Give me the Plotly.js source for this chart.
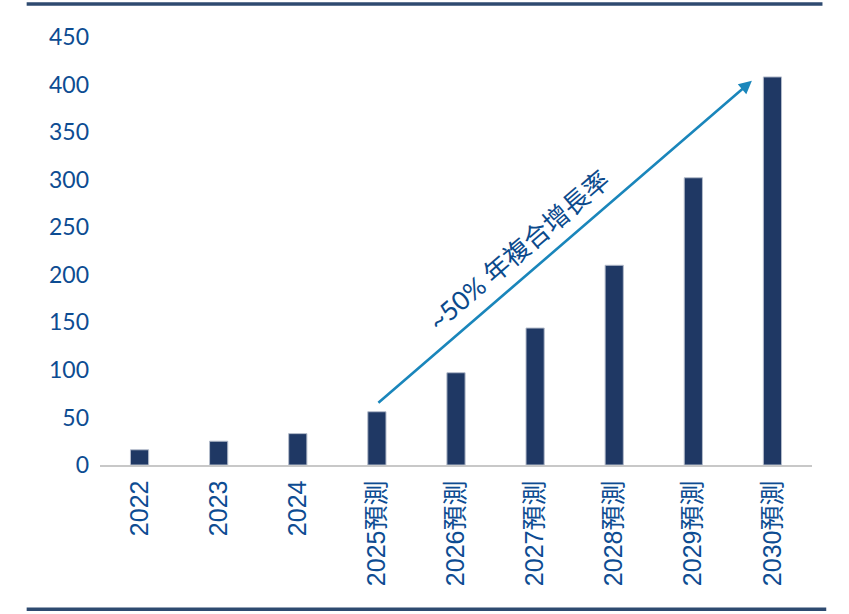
<!DOCTYPE html>
<html>
<head>
<meta charset="utf-8">
<script src="https://cdn.plot.ly/plotly-3.0.1.min.js"></script>
<style>html,body{margin:0;padding:0;background:#fff;}#chart{width:849px;height:614px;}</style>
</head>
<body>
<div id="chart"></div>
<script>
const categories = ["2022", "2023", "2024", "2025預測", "2026預測", "2027預測", "2028預測", "2029預測", "2030預測"];
const values = [16, 25, 33, 56, 97, 144, 210, 302, 408];
const yTicks = [0, 50, 100, 150, 200, 250, 300, 350, 400, 450];
const cagrLabel = "~50% 年複合增長率";
const arrowStart = {x: 3, y: 64};
const arrowEnd = {x: 7.74, y: 404};
const labelPos = {x: 4.79, y: 226};

const FONT = "Lato, 'Noto Sans CJK TC', sans-serif";
const XFONT = "'Liberation Sans', Arial, 'Noto Sans CJK TC', sans-serif";
const TXT = "#0d4c92";

const trace = {
  type: "bar",
  x: categories,
  y: values,
  marker: {color: "#1f3864", line: {color: "#b4bccb", width: 1}},
  hoverinfo: "skip"
};

const layout = {
  width: 849, height: 614,
  margin: {l: 99.5, r: 37, t: 37, b: 148.5},
  paper_bgcolor: "#ffffff",
  plot_bgcolor: "#ffffff",
  showlegend: false,
  bargap: 0.77,
  font: {family: FONT, color: TXT, size: 23},
  xaxis: {
    type: "category",
    range: [-0.5, 8.5],
    showline: true, linecolor: "#c8c8c8", linewidth: 1.5,
    showgrid: false, zeroline: false, ticks: "",
    tickangle: -90,
    tickfont: {family: XFONT, color: TXT, size: 25},
    ticklabelstandoff: 4
  },
  yaxis: {
    range: [0, 450],
    tickvals: yTicks,
    ticktext: yTicks.map(String),
    showline: false, showgrid: false, zeroline: false, ticks: "",
    tickfont: {family: FONT, color: TXT, size: 23},
    ticklabelstandoff: 10
  },
  shapes: [
    {type: "line", xref: "paper", yref: "paper", x0: -0.103, x1: 1.0147, y0: 1.077, y1: 1.077,
     line: {color: "#2e4a70", width: 3.5}},
    {type: "line", xref: "paper", yref: "paper", x0: -0.103, x1: 1.02, y0: -0.337, y1: -0.337,
     line: {color: "#2e4a70", width: 3.5}}
  ],
  annotations: [
    {x: arrowEnd.x, y: arrowEnd.y, ax: arrowStart.x, ay: arrowStart.y,
     xref: "x", yref: "y", axref: "x", ayref: "y",
     text: "", showarrow: true, arrowhead: 2, arrowsize: 1, arrowwidth: 2.6,
     arrowcolor: "#1a86bb", standoff: 0, startstandoff: 0},
    {x: labelPos.x, y: labelPos.y, xref: "x", yref: "y",
     text: cagrLabel, showarrow: false, textangle: -40.7,
     xanchor: "center", yanchor: "middle",
     font: {family: FONT, color: "#0b4a8c", size: 26}}
  ]
};

Plotly.newPlot("chart", [trace], layout, {staticPlot: true, displayModeBar: false});
</script>
</body>
</html>
